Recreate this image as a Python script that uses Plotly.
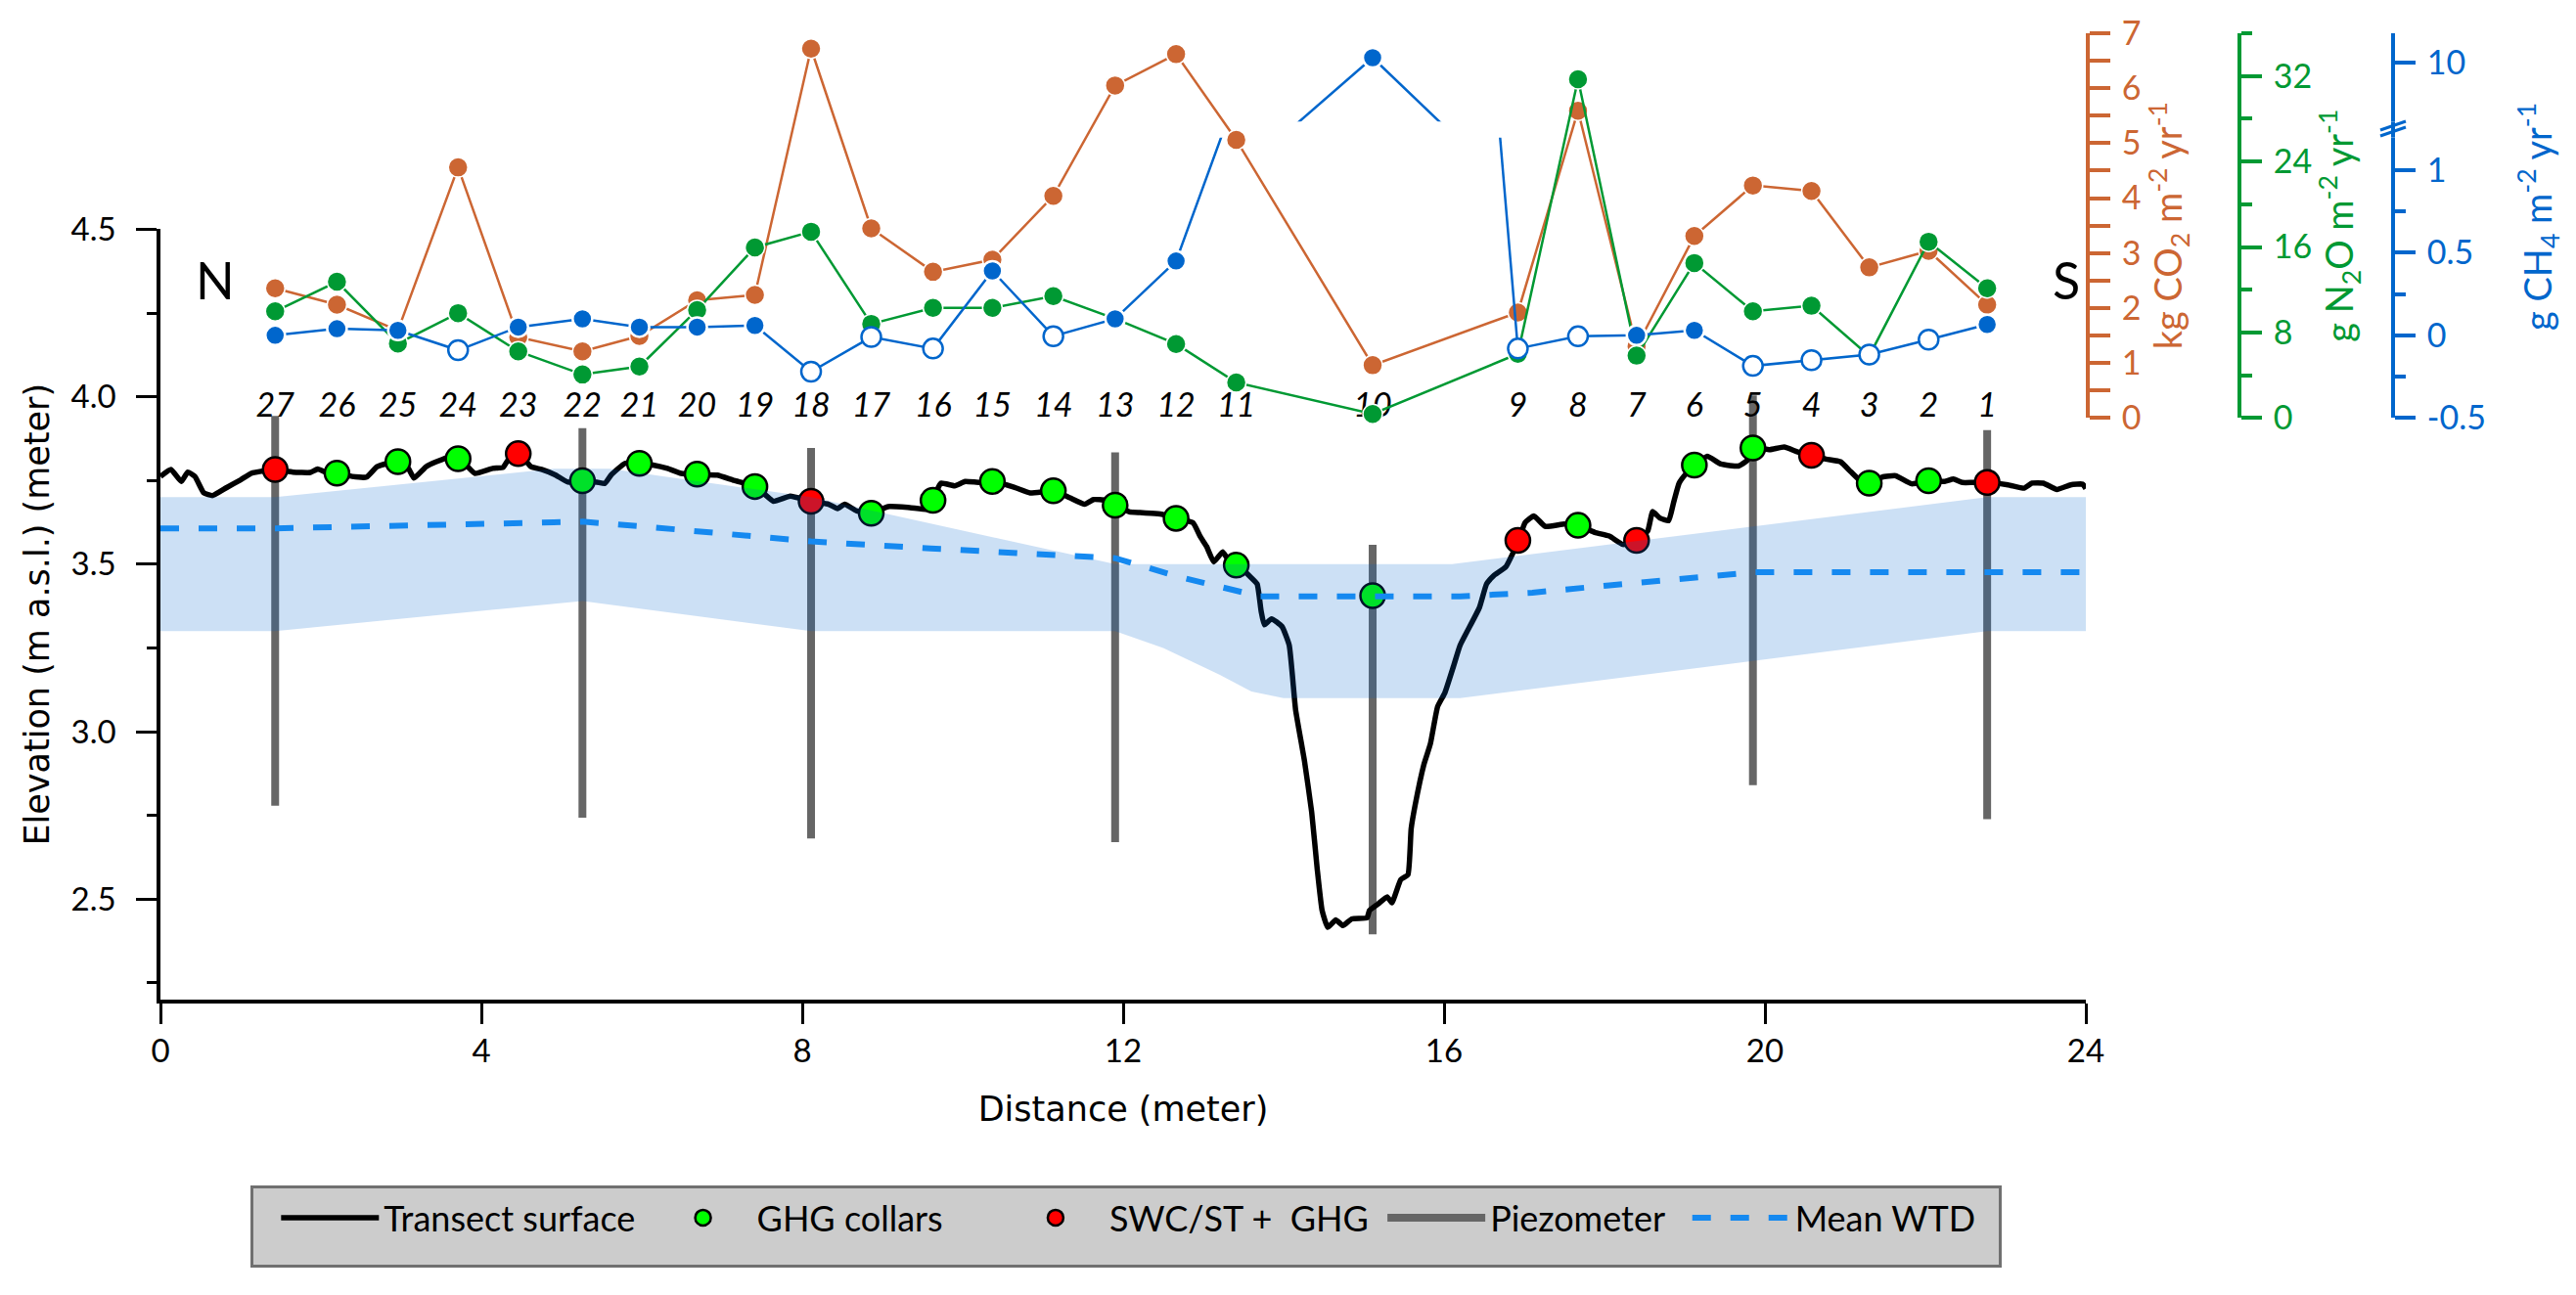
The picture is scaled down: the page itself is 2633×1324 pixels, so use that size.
import plotly.graph_objects as go

# ---- data ----
COLLAR_ID = [27, 26, 25, 24, 23, 22, 21, 20, 19, 18, 17, 16, 15, 14, 13, 12, 11,
             10, 9, 8, 7, 6, 5, 4, 3, 2, 1]
COLLAR_X = [1.43, 2.20, 2.96, 3.71, 4.46, 5.26, 5.97, 6.69, 7.41, 8.11, 8.86, 9.63,
            10.37, 11.13, 11.90, 12.66, 13.41, 15.11, 16.92, 17.67, 18.40, 19.12,
            19.85, 20.58, 21.30, 22.04, 22.77]
COLLAR_Z = [3.783, 3.772, 3.806, 3.815, 3.830, 3.749, 3.801, 3.769, 3.732, 3.688,
            3.652, 3.691, 3.747, 3.719, 3.676, 3.637, 3.497, 3.406, 3.571, 3.616,
            3.571, 3.796, 3.847, 3.825, 3.742, 3.749, 3.744]
SWC_IDS = [27, 23, 18, 9, 7, 4, 1]

CO2 = [2.36, 2.06, 1.59, 4.56, 1.47, 1.21, 1.49, 2.14, 2.24, 6.72, 3.45, 2.66, 2.88,
       4.04, 6.05, 6.62, 5.06, 0.96, 1.92, 5.59, 1.30, 3.31, 4.23, 4.13, 2.74, 3.04, 2.06]
N2O = [9.98, 12.75, 6.97, 9.81, 6.23, 4.07, 4.81, 10.1, 15.96, 17.43, 8.80, 10.3, 10.3,
       11.4, 9.28, 6.92, 3.32, 0.37, 6.0, 31.7, 5.83, 14.5, 9.98, 10.5, 5.8, 16.49, 12.14]
CH4 = [0.0, 0.04, 0.03, -0.09, 0.05, 0.10, 0.05, 0.05, 0.06, -0.22, -0.01, -0.08, 0.39,
       -0.005, 0.10, 0.45, 1.45, 10.37, -0.08, -0.006, 0.0, 0.03, -0.185, -0.15, -0.116,
       -0.026, 0.066]
CH4_FILLED = [1, 1, 1, 0, 1, 1, 1, 1, 1, 0, 0, 0, 1, 0, 1, 1, 1, 1, 0, 0, 1, 1, 0, 0, 0, 0, 1]

SURF_X = [0.0, 0.13, 0.26, 0.34, 0.43, 0.54, 0.65, 0.82, 1.00, 1.13, 1.30, 1.44, 1.65,
          1.87, 1.96, 2.09, 2.21, 2.39, 2.57, 2.70, 2.83, 2.96, 3.09, 3.16, 3.31, 3.44,
          3.61, 3.71, 3.83, 3.92, 4.14, 4.27, 4.33, 4.47, 4.62, 4.75, 4.92, 5.08, 5.27,
          5.44, 5.54, 5.62, 5.79, 5.98, 6.14, 6.32, 6.49, 6.69, 6.94, 7.15, 7.42, 7.64,
          7.85, 8.11, 8.33, 8.44, 8.53, 8.68, 8.87, 9.07, 9.34, 9.60, 9.63, 9.73, 9.90,
          10.03, 10.21, 10.37, 10.64, 10.84, 11.14, 11.34, 11.52, 11.63, 11.78, 11.91,
          12.08, 12.21, 12.35, 12.48, 12.66, 12.87, 12.96, 13.04, 13.13, 13.24, 13.30,
          13.43, 13.57, 13.67, 13.72, 13.76, 13.85, 13.98, 14.07, 14.15, 14.26, 14.35,
          14.42, 14.48, 14.55, 14.65, 14.74, 14.85, 15.04, 15.07, 15.18, 15.29, 15.35,
          15.46, 15.55, 15.59, 15.64, 15.75, 15.83, 15.92, 16.01, 16.12, 16.20, 16.44,
          16.53, 16.62, 16.77, 16.93, 17.01, 17.12, 17.26, 17.50, 17.67, 17.88, 18.06,
          18.23, 18.41, 18.54, 18.60, 18.69, 18.80, 18.86, 18.93, 19.02, 19.13, 19.28,
          19.45, 19.67, 19.78, 19.86, 20.06, 20.24, 20.41, 20.58, 20.76, 20.94, 21.07,
          21.20, 21.31, 21.46, 21.63, 21.83, 22.04, 22.24, 22.35, 22.46, 22.59, 22.77,
          23.03, 23.23, 23.33, 23.47, 23.64, 23.81, 23.96, 24.0]
SURF_Z = [3.762, 3.783, 3.747, 3.775, 3.762, 3.713, 3.705, 3.728, 3.752, 3.771, 3.779,
          3.783, 3.775, 3.774, 3.784, 3.772, 3.772, 3.762, 3.760, 3.791, 3.801, 3.806,
          3.786, 3.757, 3.791, 3.806, 3.820, 3.815, 3.791, 3.771, 3.786, 3.789, 3.810,
          3.830, 3.791, 3.783, 3.767, 3.745, 3.748, 3.745, 3.741, 3.767, 3.801, 3.801,
          3.796, 3.786, 3.771, 3.768, 3.766, 3.750, 3.732, 3.688, 3.703, 3.688, 3.679,
          3.666, 3.679, 3.659, 3.652, 3.672, 3.669, 3.664, 3.691, 3.742, 3.734, 3.747,
          3.744, 3.747, 3.730, 3.713, 3.719, 3.698, 3.679, 3.693, 3.691, 3.676, 3.656,
          3.654, 3.652, 3.649, 3.637, 3.624, 3.583, 3.553, 3.507, 3.537, 3.517, 3.497,
          3.466, 3.441, 3.360, 3.319, 3.337, 3.314, 3.258, 3.065, 2.913, 2.760, 2.588,
          2.466, 2.416, 2.438, 2.421, 2.441, 2.444, 2.466, 2.486, 2.507, 2.489, 2.558,
          2.573, 2.710, 2.781, 2.903, 2.964, 3.075, 3.116, 3.197, 3.258, 3.370, 3.441,
          3.466, 3.492, 3.571, 3.624, 3.644, 3.613, 3.620, 3.616, 3.595, 3.584, 3.559,
          3.571, 3.600, 3.657, 3.638, 3.630, 3.683, 3.742, 3.771, 3.796, 3.822, 3.799,
          3.793, 3.810, 3.847, 3.842, 3.850, 3.835, 3.825, 3.814, 3.806, 3.776, 3.747,
          3.742, 3.760, 3.764, 3.740, 3.749, 3.747, 3.754, 3.744, 3.744, 3.744, 3.737,
          3.727, 3.742, 3.742, 3.723, 3.737, 3.739, 3.726]

PIEZO_X = [1.43, 5.26, 8.11, 11.90, 15.11, 19.85, 22.77]
PIEZO_TOP = [3.943, 3.906, 3.847, 3.834, 3.558, 4.004, 3.900]
PIEZO_BOTTOM = [2.779, 2.743, 2.681, 2.670, 2.395, 2.840, 2.739]

WTD_X = [0, 1.43, 4.9, 5.26, 6.0, 6.94, 8.11, 9.6, 10.9, 11.9, 12.7, 13.25, 13.7,
         16.2, 17.1, 18.06, 19.06, 19.86, 24]
WTD_Z = [3.607, 3.607, 3.625, 3.627, 3.613, 3.591, 3.568, 3.547, 3.532, 3.518, 3.462,
         3.430, 3.404, 3.404, 3.415, 3.437, 3.461, 3.476, 3.476]

BAND_UP_X = [0, 1.43, 4.9, 5.6, 8.11, 11.9, 16.1, 22.77, 24]
BAND_UP = [3.70, 3.70, 3.785, 3.785, 3.70, 3.50, 3.50, 3.70, 3.70]
BAND_LO_X = [0, 1.43, 5.26, 8.11, 11.9, 12.5, 13.2, 13.6, 14.0, 16.2, 22.77, 24]
BAND_LO = [3.30, 3.30, 3.39, 3.30, 3.30, 3.25, 3.17, 3.12, 3.10, 3.10, 3.30, 3.30]

# ---- layout helpers (pixel positions measured on the reference) ----
PAGE_OFF = 8                      # browser body margin
FIG_W, FIG_H = 2633 - PAGE_OFF, 1324 - PAGE_OFF
M_L, M_R, M_T, M_B = 164 - PAGE_OFF, 20, 34 - PAGE_OFF, 302
PLOT_W = FIG_W - M_L - M_R
PLOT_H = FIG_H - M_T - M_B


def fx(px):
    return (px - PAGE_OFF - M_L) / PLOT_W


def fy(py):
    return (FIG_H - M_B - (py - PAGE_OFF)) / PLOT_H


FONT = "Lato"
TITLE_FONT = "DejaVu Sans"
ORANGE, GREEN, BLUE = "#cc6633", "#009933", "#0066cc"
NB = "\u00a0"
X_RIGHT = fx(2132)
POS_N2O, POS_CH4 = fx(2289), fx(2446)

fig = go.Figure()

# piezometers
pz_x, pz_y = [], []
for x, lo, hi in zip(PIEZO_X, PIEZO_BOTTOM, PIEZO_TOP):
    pz_x += [x, x, None]
    pz_y += [lo, hi, None]
fig.add_trace(go.Scatter(x=pz_x, y=pz_y, mode="lines", name="Piezometer" + NB * 2,
                         legendrank=4, line=dict(color="#666666", width=8)))

fig.add_trace(go.Scatter(x=SURF_X, y=SURF_Z, mode="lines", name="Transect surface" + NB,
                         legendrank=1,
                         line=dict(color="black", width=5.5, shape="spline", smoothing=0.4)))

green_i = [i for i, c in enumerate(COLLAR_ID) if c not in SWC_IDS]
red_i = [i for i, c in enumerate(COLLAR_ID) if c in SWC_IDS]
for idx, col, name, rank in [(green_i, "#00ff00", "GHG collars" + NB * 6, 2),
                             (red_i, "#ff0000", "SWC/ST + " + NB + "GHG" + NB, 3)]:
    fig.add_trace(go.Scatter(x=[COLLAR_X[i] for i in idx], y=[COLLAR_Z[i] for i in idx],
                             mode="markers", name=name, legendrank=rank, cliponaxis=False,
                             marker=dict(size=25, color=col, line=dict(color="black", width=2.5))))

# WTD range band (drawn over surface, like the original)
fig.add_trace(go.Scatter(x=BAND_UP_X + BAND_LO_X[::-1], y=BAND_UP + BAND_LO[::-1],
                         mode="lines", fill="toself", fillcolor="rgba(0,102,204,0.2)",
                         line=dict(width=0), showlegend=False, hoverinfo="skip"))

fig.add_trace(go.Scatter(x=WTD_X, y=WTD_Z, mode="lines", name="Mean WTD" + NB * 2, legendrank=5,
                         line=dict(color="#1589f0", width=6, dash="19px,20px")))

fig.add_trace(go.Scatter(x=COLLAR_X, y=[3.966] * len(COLLAR_X), mode="text",
                         text=[str(c) for c in COLLAR_ID], showlegend=False, cliponaxis=False,
                         textfont=dict(family=FONT, size=34, style="italic", color="black")))

# fluxes
fig.add_trace(go.Scatter(x=COLLAR_X, y=CO2, yaxis="y2", mode="lines+markers", showlegend=False,
                         cliponaxis=False, line=dict(color=ORANGE, width=2.5),
                         marker=dict(size=20, color=ORANGE, line=dict(color="white", width=1.5))))
fig.add_trace(go.Scatter(x=COLLAR_X, y=N2O, yaxis="y3", mode="lines+markers", showlegend=False,
                         cliponaxis=False, line=dict(color=GREEN, width=2.5),
                         marker=dict(size=20, color=GREEN, line=dict(color="white", width=1.5))))
ch4_fill = [BLUE if f else "white" for f in CH4_FILLED]
ch4_edge = ["white" if f else BLUE for f in CH4_FILLED]
for ax in ["y4", "y5"]:
    fig.add_trace(go.Scatter(x=COLLAR_X, y=CH4, yaxis=ax, mode="lines+markers", showlegend=False,
                             line=dict(color=BLUE, width=2.5),
                             marker=dict(size=20, color=ch4_fill, line=dict(color=ch4_edge, width=2.5))))

tick_common = dict(ticks="outside", showline=True, showgrid=False, zeroline=False)


def flux_axis(color, **kw):
    d = dict(tick_common, linecolor=color, linewidth=4, tickcolor=color, tickwidth=4, ticklen=21,
             tickfont=dict(family=FONT, size=34, color=color), side="right", ticklabelstandoff=5)
    d.update(kw)
    return d


fig.update_layout(
    width=FIG_W, height=FIG_H, template="none",
    margin=dict(l=M_L, r=M_R, t=M_T, b=M_B),
    paper_bgcolor="white", plot_bgcolor="rgba(0,0,0,0)",
    font=dict(family=FONT, size=34, color="black"),
    xaxis=dict(tick_common, domain=[0, X_RIGHT], range=[0, 24], anchor="y",
               tickvals=list(range(0, 25, 4)), ticklen=21, tickwidth=3, tickcolor="black",
               linewidth=3.5, linecolor="black", tickfont=dict(size=33),
               title=dict(text="Distance (meter)", font=dict(family=TITLE_FONT, size=35),
                          standoff=30)),
    yaxis=dict(tick_common, domain=[0, fy(234.4)], range=[2.2, 4.5], tick0=2.5, dtick=0.5,
               tickformat=".1f", ticklen=21, tickwidth=3, tickcolor="black",
               linewidth=3.5, linecolor="black", tickfont=dict(size=33), ticklabelstandoff=14,
               minor=dict(tickvals=[2.25, 2.75, 3.25, 3.75, 4.25], ticklen=10, tickwidth=3,
                          tickcolor="black", ticks="outside"),
               title=dict(text="Elevation (m a.s.l.) (meter)", font=dict(family=TITLE_FONT, size=35),
                          standoff=12)),
    yaxis2=flux_axis(ORANGE, domain=[fy(427.3), 1], range=[0, 7], anchor="x", dtick=1,
                     minor=dict(dtick=0.5, ticklen=21, tickwidth=4, tickcolor=ORANGE, ticks="outside"),
                     title=dict(text="kg CO<sub>2</sub> m<sup>-2</sup> yr<sup>-1</sup>",
                                font=dict(size=38, color=ORANGE), standoff=12)),
    yaxis3=flux_axis(GREEN, domain=[fy(427.3), 1], range=[0, 36], anchor="free",
                     position=POS_N2O, tickvals=[0, 8, 16, 24, 32],
                     minor=dict(tickvals=[4, 12, 20, 28, 36], ticklen=11, tickwidth=4,
                                tickcolor=GREEN, ticks="outside"),
                     title=dict(text="g N<sub>2</sub>O m<sup>-2</sup> yr<sup>-1</sup>",
                                font=dict(size=38, color=GREEN), standoff=14)),
    yaxis4=flux_axis(BLUE, domain=[fy(427.3), fy(140.7)], range=[-0.5, 1.197], anchor="free",
                     position=POS_CH4, tickvals=[-0.5, 0, 0.5, 1], ticktext=["-0.5", "0", "0.5", "1"],
                     minor=dict(tickvals=[-0.25, 0.25, 0.75], ticklen=11, tickwidth=4,
                                tickcolor=BLUE, ticks="outside")),
    yaxis5=flux_axis(BLUE, domain=[fy(124.3), 1], range=[5.57, 12.21], anchor="free",
                     position=POS_CH4, tickvals=[10], ticktext=["10"]),
    legend=dict(orientation="h", x=fx(256), y=fy(1212), xanchor="left", yanchor="top",
                bgcolor="#cccccc", bordercolor="#707070", borderwidth=3,
                font=dict(family=FONT, size=36, color="black"), itemwidth=100,
                title=dict(text=NB, side="left", font=dict(size=52))),
    showlegend=True,
)

fig.add_annotation(x=fx(220), y=fy(286), xref="paper", yref="paper", text="N", showarrow=False,
                   xanchor="center", yanchor="middle", font=dict(size=52, color="black"))
fig.add_annotation(x=fx(2112), y=fy(286), xref="paper", yref="paper", text="S", showarrow=False,
                   xanchor="center", yanchor="middle", font=dict(size=52, color="black"))
fig.add_annotation(x=fx(2594), y=fy(222), xref="paper", yref="paper", textangle=-90,
                   xanchor="center", yanchor="middle",
                   text="g CH<sub>4</sub> m<sup>-2</sup> yr<sup>-1</sup>", showarrow=False,
                   font=dict(size=38, color=BLUE))

# axis break on the CH4 axis
fig.add_shape(type="line", xref="paper", yref="paper", x0=POS_CH4, x1=POS_CH4,
              y0=fy(140.7), y1=fy(124.3), line=dict(color=BLUE, width=4))
for dy in (-3, 3):
    fig.add_shape(type="line", xref="paper", yref="paper", x0=fx(2433), x1=fx(2459),
                  y0=fy(136 + dy), y1=fy(127 + dy), line=dict(color=BLUE, width=3))

fig.write_html("out.html")
